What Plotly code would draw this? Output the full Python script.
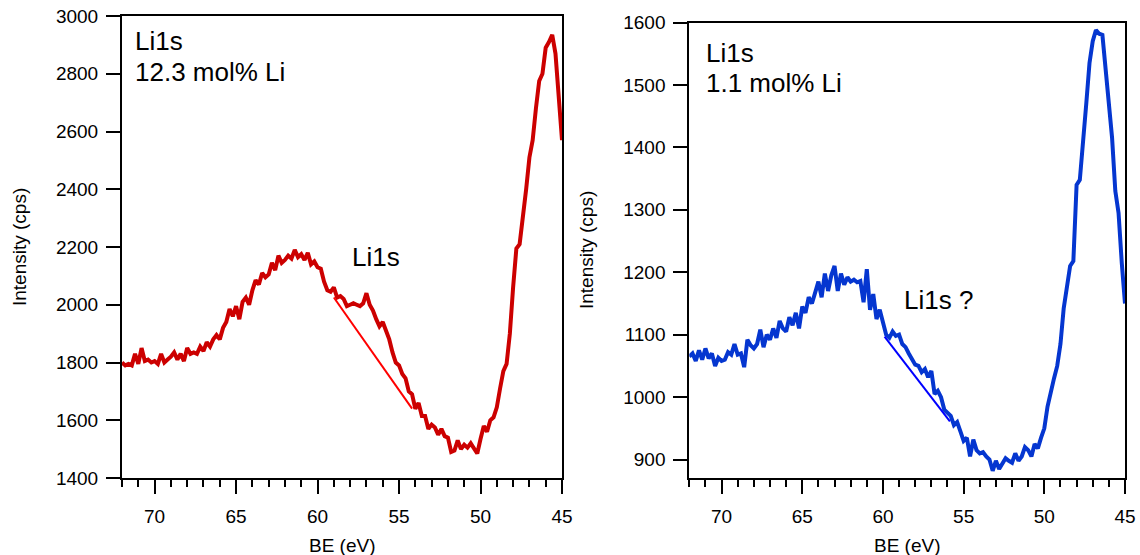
import plotly.graph_objects as go

# Binding energy grid (eV), 72 -> 45 in 0.2 eV steps
be = [round(72.0 - 0.2 * i, 1) for i in range(136)]

# Li1s region, 12.3 mol% Li sample (cps)
counts_high = [
    1800, 1790, 1795, 1790, 1830, 1795, 1850, 1805, 1810, 1800,
    1805, 1795, 1830, 1800, 1810, 1820, 1835, 1810, 1830, 1805,
    1850, 1830, 1835, 1830, 1855, 1840, 1870, 1855, 1880, 1895,
    1880, 1920, 1940, 1985, 1960, 1995, 1950, 2010, 2025, 2000,
    2050, 2085, 2070, 2110, 2095, 2105, 2145, 2120, 2170, 2145,
    2155, 2170, 2160, 2190, 2165, 2175, 2155, 2180, 2140, 2150,
    2130, 2125, 2080, 2050, 2045, 2060, 2025, 2030, 2020, 1995,
    2000, 2005, 2000, 1995, 2005, 2040, 2000, 1980, 1950, 1925,
    1940, 1910, 1880, 1835, 1800, 1790, 1760, 1745, 1700, 1690,
    1640, 1660, 1615, 1615, 1570, 1585, 1575, 1550, 1570, 1545,
    1540, 1490, 1495, 1530, 1500, 1515, 1505, 1520, 1500, 1485,
    1535, 1580, 1560, 1600, 1610, 1645, 1710, 1770, 1795, 1900,
    2060, 2195, 2210, 2300, 2400, 2510, 2570, 2680, 2775, 2800,
    2890, 2910, 2935, 2870, 2740, 2570,
]

# Li1s region, 1.1 mol% Li sample (cps)
counts_low = [
    1065, 1070, 1058, 1075, 1060, 1078, 1062, 1070, 1050, 1063,
    1058, 1060, 1072, 1068, 1085, 1068, 1070, 1048, 1092, 1083,
    1078, 1085, 1108, 1080, 1100, 1092, 1110, 1095, 1122, 1110,
    1105, 1128, 1115, 1135, 1110, 1145, 1135, 1160, 1150, 1168,
    1185, 1160, 1198, 1170, 1195, 1210, 1170, 1198, 1180, 1192,
    1185, 1188, 1184, 1186, 1152, 1205, 1140, 1165, 1125, 1140,
    1120, 1100, 1095, 1105, 1098, 1100, 1085, 1080, 1070, 1060,
    1052, 1050, 1040, 1045, 1032, 1042, 1005, 1010, 1000, 980,
    975, 970, 955, 960, 945, 930, 935, 905, 932, 915,
    910, 912, 905, 900, 882, 898, 885, 895, 902, 898,
    895, 910, 898, 905, 920, 915, 905, 925, 918, 935,
    950, 985, 1010, 1030, 1050, 1085, 1142, 1180, 1210, 1218,
    1340, 1348, 1420, 1470, 1535, 1570, 1588, 1582, 1580, 1520,
    1470, 1415, 1330, 1295, 1215, 1150,
]

# Linear backgrounds under the Li1s shoulder
bg_high_be = [59.0, 54.2]
bg_high_cps = [2025, 1640]
bg_low_be = [59.9, 55.85]
bg_low_cps = [1097, 961]

FONT = "Liberation Sans, Arial, sans-serif"
W, H = 1140, 555

fig = go.Figure()

fig.add_trace(go.Scatter(x=be, y=counts_high, mode="lines",
                         line=dict(color="#cc0000", width=4),
                         xaxis="x", yaxis="y", showlegend=False))
fig.add_trace(go.Scatter(x=bg_high_be, y=bg_high_cps, mode="lines",
                         line=dict(color="#ff0000", width=2),
                         xaxis="x", yaxis="y", showlegend=False))
fig.add_trace(go.Scatter(x=be, y=counts_low, mode="lines",
                         line=dict(color="#0536d0", width=4),
                         xaxis="x2", yaxis="y2", showlegend=False))
fig.add_trace(go.Scatter(x=bg_low_be, y=bg_low_cps, mode="lines",
                         line=dict(color="#0000ff", width=2),
                         xaxis="x2", yaxis="y2", showlegend=False))


def px_x(p):
    return p / W


def px_y(p):
    return (H - p) / H


def xax(domain, anchor):
    return dict(
        domain=domain, anchor=anchor, range=[72, 45], autorange=False,
        automargin=False,
        dtick=5, tick0=45, ticks="outside", ticklen=14, tickwidth=2,
        tickcolor="black", showline=True, linecolor="black", linewidth=2,
        mirror=True, showgrid=False, zeroline=False, ticklabelstandoff=6,
        tickfont=dict(family=FONT, size=19, color="black"),
        minor=dict(dtick=1, ticks="outside", ticklen=7, tickwidth=2,
                   tickcolor="black", showgrid=False),
    )


def yax(domain, anchor, rng, dtick):
    return dict(
        domain=domain, anchor=anchor, range=rng, autorange=False,
        automargin=False,
        dtick=dtick, ticks="outside", ticklen=14, tickwidth=2,
        tickcolor="black", showline=True, linecolor="black", linewidth=2,
        mirror=True, showgrid=False, zeroline=False, ticklabelstandoff=4,
        tickfont=dict(family=FONT, size=19, color="black"),
    )


fig.update_layout(
    template="none",
    width=W, height=H, margin=dict(l=0, r=0, t=0, b=0, pad=0),
    paper_bgcolor="white", plot_bgcolor="white",
    font=dict(family=FONT, color="black"),
    xaxis=xax([px_x(122), px_x(562)], "y"),
    yaxis=yax([px_y(478), px_y(16)], "x", [1400, 3000], 200),
    xaxis2=xax([px_x(689.3), px_x(1125)], "y2"),
    yaxis2=yax([px_y(478.3), px_y(22.5)], "x2", [870, 1600], 100),
)

# Axis titles
title_font = dict(family=FONT, size=19, color="black")
for text, x, y, angle in [
    ("BE (eV)", px_x(342), px_y(545), 0),
    ("BE (eV)", px_x(907), px_y(545), 0),
    ("Intensity (cps)", px_x(19), px_y(247), -90),
    ("Intensity (cps)", px_x(587), px_y(250), -90),
]:
    fig.add_annotation(text=text, x=x, y=y, xref="paper", yref="paper",
                       xanchor="center", yanchor="middle", textangle=angle,
                       showarrow=False, font=title_font)

ann_font = dict(family=FONT, size=26, color="black")
for text, x, y in [
    ("Li1s", px_x(133), px_y(41)),
    ("12.3 mol% Li", px_x(133), px_y(72)),
    ("Li1s", px_x(704), px_y(53)),
    ("1.1 mol% Li", px_x(704), px_y(83)),
]:
    fig.add_annotation(text=text, x=x, y=y, xref="paper", yref="paper",
                       xanchor="left", yanchor="middle", showarrow=False,
                       font=ann_font)

fig.add_annotation(text="Li1s", x=58.0, y=2165, xref="x", yref="y",
                   xanchor="left", yanchor="middle", showarrow=False, font=ann_font)
fig.add_annotation(text="Li1s ?", x=58.8, y=1155, xref="x2", yref="y2",
                   xanchor="left", yanchor="middle", showarrow=False, font=ann_font)

fig.write_html("out.html")
